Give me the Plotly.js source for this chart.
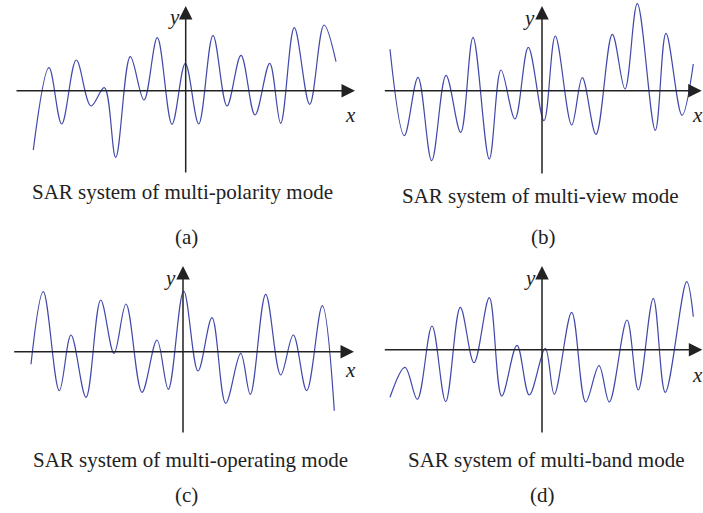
<!DOCTYPE html>
<html>
<head>
<meta charset="utf-8">
<script src="https://cdn.plot.ly/plotly-3.0.1.min.js"></script>
<style>html,body{margin:0;padding:0;background:#fff;}#chart{width:703px;height:513px;}</style>
</head>
<body>
<div id="chart"></div>
<script>
// Read extrema of each waveform (x along axis, y above axis), relative to the axis origin
const polarityX = [-152.4,-136.7,-124,-109.4,-94.7,-81.4,-70,-55.4,-41.7,-28.4,-13.7,-0.4,13,27.3,41.3,55.3,69.3,84,95,108.6,124,138.3,150.3];
const polarityY = [-59.3,23,-33.3,30.7,-15.3,3,-66.6,34,-9.3,53,-33.6,27.4,-33.3,55.4,-15.3,35.4,-24.3,27.4,-32.6,63,-13.6,65.7,29];

const viewX = [-152,-137.7,-124,-110.3,-96,-81.3,-69,-52.7,-41,-27,-13.7,2,13.3,29.7,40.3,54,70.3,83,95.3,113.3,124,140,151.3];
const viewY = [41.4,-45,13.4,-70,15.4,-41.6,53.4,-68.3,20.7,-28.3,43.4,-30,54.7,-34.3,13,-43.6,56.4,1.7,87,-39.6,57.4,-24.6,26.7];

const operatingX = [-152,-139.7,-123.7,-112,-97,-82.3,-69,-57,-41,-26,-14.7,0.7,15,29,42.7,57.7,67.3,82.7,97.7,110.3,123.7,139.3,151.3];
const operatingY = [-12.6,60,-39,16.7,-45.6,51.7,-1.6,47.7,-40.6,11.7,-37.6,60.7,-19.3,34,-51.6,-1.6,-42.6,57.4,-23.3,16.7,-39,46,-59];

const bandX = [-152,-137,-124.7,-110,-96.3,-81.7,-68,-52.7,-40.3,-25,-12.7,3.3,12.3,29.7,43.7,57,67.3,85,96.3,111.3,123.3,144.7,151.3];
const bandY = [-47.6,-17.6,-49.6,23.7,-52,42.4,-13,52,-46.3,4.4,-45.3,1.4,-44.6,37.4,-52.3,-16,-52.3,29.7,-40.3,51.4,-42.6,68,33];

const captions = ["SAR system of multi-polarity mode","SAR system of multi-view mode","SAR system of multi-operating mode","SAR system of multi-band mode"];
const panelLabels = ["(a)","(b)","(c)","(d)"];

const W = 703, H = 513;
// panel geometry (pixels): region and origin
const panels = [
  {xs:polarityX, ys:polarityY, r:[0,360,0,180], o:[185.7,90.7], hx:[-170.7,169.3], vy:[-83.3,84.7], cap:[182,192], lab:[186,237], yl:[174,17], xl:[350,115]},
  {xs:viewX, ys:viewY, r:[360,703,0,180], o:[542,90.7], hx:[-158.7,159.7], vy:[-84.3,84.7], cap:[540,196], lab:[543,237], yl:[529,18], xl:[697,115]},
  {xs:operatingX, ys:operatingY, r:[0,360,260,440], o:[183,351.7], hx:[-170.3,171], vy:[-82.3,85.7], cap:[190,460], lab:[186,495], yl:[170,278], xl:[350,370]},
  {xs:bandX, ys:bandY, r:[360,703,260,440], o:[542,349.7], hx:[-158.7,160.3], vy:[-84.3,83.7], cap:[546,460], lab:[542,495], yl:[530,278], xl:[697,375]}
];

const traces = [];
const layout = {
  width: W, height: H,
  margin: {l:0, r:0, t:0, b:0},
  paper_bgcolor: '#fff', plot_bgcolor: 'rgba(0,0,0,0)',
  showlegend: false,
  annotations: [], shapes: []
};
const serif = 'Liberation Serif, Times New Roman, serif';

panels.forEach((p, i) => {
  const n = i === 0 ? '' : String(i + 1);
  const [x0, x1, y0, y1] = p.r;
  const [ox, oy] = p.o;
  layout['xaxis' + n] = {domain:[x0 / W, x1 / W], range:[x0 - ox, x1 - ox], visible:false, fixedrange:true, anchor:'y' + n};
  layout['yaxis' + n] = {domain:[1 - y1 / H, 1 - y0 / H], range:[oy - y1, oy - y0], visible:false, fixedrange:true, anchor:'x' + n};
  traces.push({
    x: p.xs, y: p.ys, xaxis:'x' + n, yaxis:'y' + n,
    type:'scatter', mode:'lines',
    line:{color:'#4148aa', width:1.2, shape:'spline', smoothing:1.0},
    hoverinfo:'skip'
  });
  // vertical axis
  layout.annotations.push({xref:'x' + n, yref:'y' + n, axref:'x' + n, ayref:'y' + n,
    x:0, y:p.vy[1], ax:0, ay:p.vy[0], showarrow:true, arrowhead:2, arrowsize:1.8, arrowwidth:1.5, arrowcolor:'#222', text:''});
  // horizontal axis
  layout.annotations.push({xref:'x' + n, yref:'y' + n, axref:'x' + n, ayref:'y' + n,
    x:p.hx[1], y:0, ax:p.hx[0], ay:0, showarrow:true, arrowhead:2, arrowsize:1.8, arrowwidth:1.5, arrowcolor:'#222', text:''});
  // axis labels
  layout.annotations.push({xref:'paper', yref:'paper', x:p.yl[0] / W, y:1 - p.yl[1] / H, text:'<i>y</i>', showarrow:false,
    font:{family:serif, size:21, color:'#222'}, xanchor:'center', yanchor:'middle'});
  layout.annotations.push({xref:'paper', yref:'paper', x:p.xl[0] / W, y:1 - p.xl[1] / H, text:'<i>x</i>', showarrow:false,
    font:{family:serif, size:21, color:'#222'}, xanchor:'center', yanchor:'middle'});
  // captions
  layout.annotations.push({xref:'paper', yref:'paper', x:p.cap[0] / W, y:1 - p.cap[1] / H, text:captions[i], showarrow:false,
    font:{family:serif, size:21, color:'#222'}, xanchor:'center', yanchor:'middle'});
  layout.annotations.push({xref:'paper', yref:'paper', x:p.lab[0] / W, y:1 - p.lab[1] / H, text:panelLabels[i], showarrow:false,
    font:{family:serif, size:21, color:'#222'}, xanchor:'center', yanchor:'middle'});
});

Plotly.newPlot('chart', traces, layout, {staticPlot:true, displayModeBar:false});
</script>
</body>
</html>
